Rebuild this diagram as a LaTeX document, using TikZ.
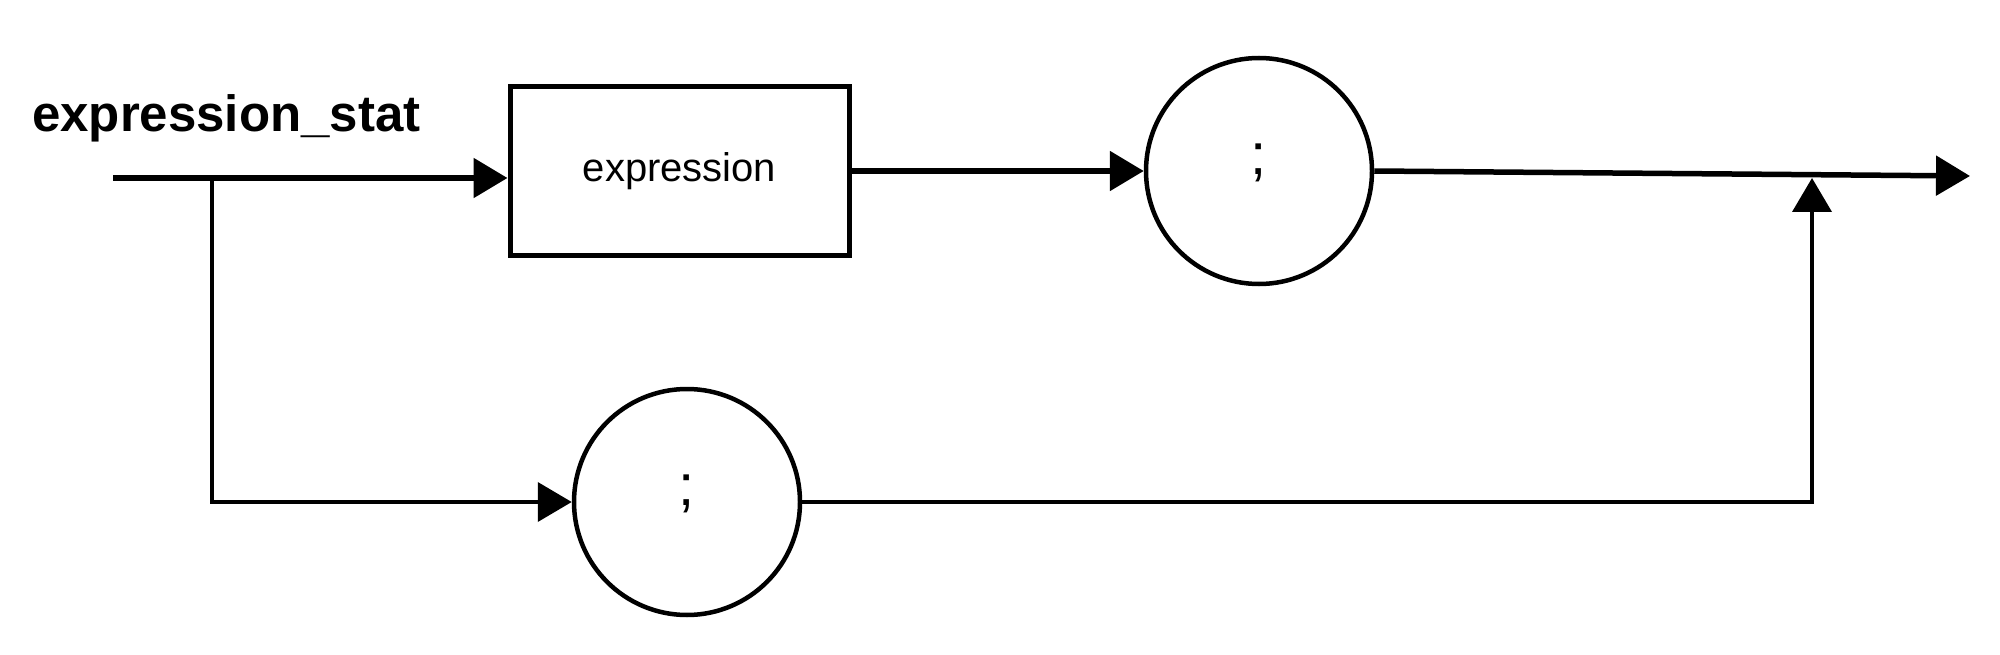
\documentclass[tikz,border=0pt]{standalone}
\usepackage{fontspec}
\setmainfont{Liberation Sans}
\usetikzlibrary{arrows.meta,calc}
\begin{document}
\begin{tikzpicture}[x=1pt,y=-1pt,
  conn/.style={line width=5.5pt,-{Triangle[length=34pt,width=39pt]}},
  termbox/.style={draw,line width=5pt,minimum width=339pt,minimum height=169pt,inner sep=0pt,font=\fontsize{40}{48}\selectfont},
  termcirc/.style={draw,circle,line width=4.5pt,minimum size=226pt,inner sep=0pt,font=\fontsize{58}{66}\selectfont,text height=0.72em,text depth=0pt},
  titlestyle/.style={font=\fontsize{51}{60}\selectfont\bfseries,inner sep=0pt}
]
\useasboundingbox (0,0) rectangle (2000,655);
\node[titlestyle,anchor=base west] (title) at (32,132) {expression\_stat};
\node[termbox] (box) at (679.5,171) {expression};
\node[termcirc] (c1) at (1259,171) {;};
\node[termcirc] (c2) at (687,502) {;};
\coordinate (start) at (113,178);
\coordinate (junc) at (212,178);
\coordinate (turn) at (212,502);
\coordinate (end) at (1970,176);
\coordinate (join) at (1812,178);
\draw[conn] (start) -- (start -| box.west);
\draw[conn] (box.east) -- (c1.west);
\draw[conn] (c1.east) -- (end);
\draw[conn,line width=4pt] (junc) -- (turn) -- (c2.west);
\draw[conn,line width=4pt] (c2.east) -| (join);
\end{tikzpicture}
\end{document}
